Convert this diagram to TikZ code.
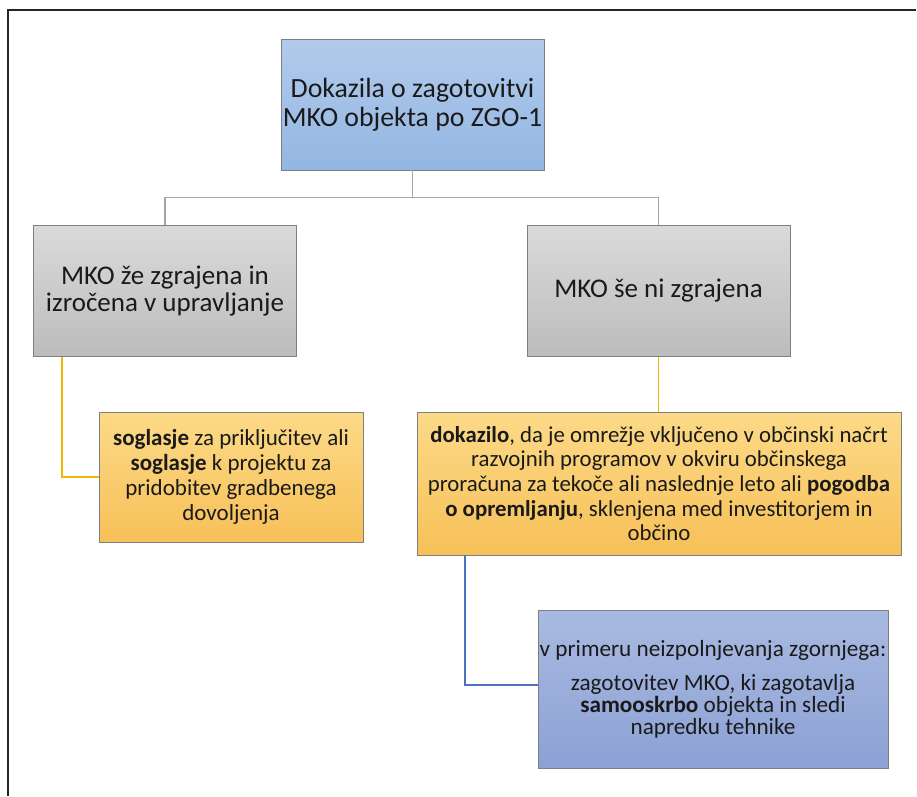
\documentclass[tikz,border=0pt]{standalone}
\usepackage{fontspec}
\setmainfont{Carlito}
\usepackage{tikz}

\begin{document}
\begin{tikzpicture}[x=1pt,y=-1pt]

\definecolor{boxline}{HTML}{7F7F7F}
\definecolor{txt}{HTML}{1A1A1A}
\definecolor{headtop}{HTML}{B2CBEC}
\definecolor{headbot}{HTML}{93B6E2}
\definecolor{graytop}{HTML}{DADADA}
\definecolor{graybot}{HTML}{BCBCBC}
\definecolor{orangetop}{HTML}{FCDA88}
\definecolor{orangebot}{HTML}{F7C058}
\definecolor{bluetop}{HTML}{A9BAE1}
\definecolor{bluebot}{HTML}{8CA1D5}
\definecolor{graylink}{HTML}{A6A6A6}
\definecolor{orangelink}{HTML}{F2B700}
\definecolor{bluelink}{HTML}{4A72C4}
\tikzset{box/.style = {draw=boxline, line width=0.8pt, align=center, text=txt, inner sep=0pt}}
\tikzset{headbox/.style = {box, top color=headtop, bottom color=headbot,
  minimum width=263pt, minimum height=131pt, font=\fontsize{27.8}{28.5}\selectfont}}
\tikzset{graybox/.style = {box, top color=graytop, bottom color=graybot,
  minimum width=263pt, minimum height=131pt, font=\fontsize{27}{27.5}\selectfont}}
\tikzset{orangebox/.style = {box, top color=orangetop, bottom color=orangebot}}
\tikzset{bluebox/.style = {box, top color=bluetop, bottom color=bluebot,
  minimum width=350pt, minimum height=158pt, font=\fontsize{23.2}{22}\selectfont}}
\tikzset{link/.style = {line width=1.5pt, draw=graylink}}
\tikzset{olink/.style = {line width=1.5pt, draw=orangelink}}
\tikzset{blink/.style = {line width=1.5pt, draw=bluelink}}

\useasboundingbox (0,0) rectangle (917,796);
% frame
\draw[line width=1.2pt, black!85] (8,796) -- (8,10) -- (916,10);

\node[headbox] (top) at (412.5,104.5) {Dokazila o zagotovitvi\\MKO objekta po ZGO-1};
\node[graybox] (built) at (165,291) {MKO že zgrajena in\\izročena v upravljanje};
\node[graybox] (notbuilt) at (658.5,291) {MKO še ni zgrajena};
\node[orangebox, minimum width=264pt, minimum height=130pt, font=\fontsize{23}{25}\selectfont] (consent) at (231,477)
  {\textbf{soglasje} za priključitev ali\\\textbf{soglasje} k projektu za\\pridobitev gradbenega\\dovoljenja};
\node[orangebox, minimum width=484pt, minimum height=143pt, font=\fontsize{22.8}{24.7}\selectfont] (proof) at (659,483.5)
  {\textbf{dokazilo}, da je omrežje vključeno v občinski načrt\\razvojnih programov v okviru občinskega\\proračuna za tekoče ali naslednje leto ali \textbf{pogodba}\\\textbf{o opremljanju}, sklenjena med investitorjem in\\občino};
\node[bluebox] (self) at (713,689)
  {v primeru neizpolnjevanja zgornjega:\\[12pt]zagotovitev MKO, ki zagotavlja\\\textbf{samooskrbo} objekta in sledi\\napredku tehnike};

\draw[link] (top.south) -- ++(0,27) -| (built.north);
\draw[link] (top.south) -- ++(0,27) -| (notbuilt.north);
\draw[olink] ([xshift=-103pt]built.south) |- (consent.west);
\draw[olink] (notbuilt.south) -- (notbuilt.south |- proof.north);
\draw[blink] ([xshift=-194pt]proof.south) |- ([yshift=4pt]self.west);
\end{tikzpicture}
\end{document}
